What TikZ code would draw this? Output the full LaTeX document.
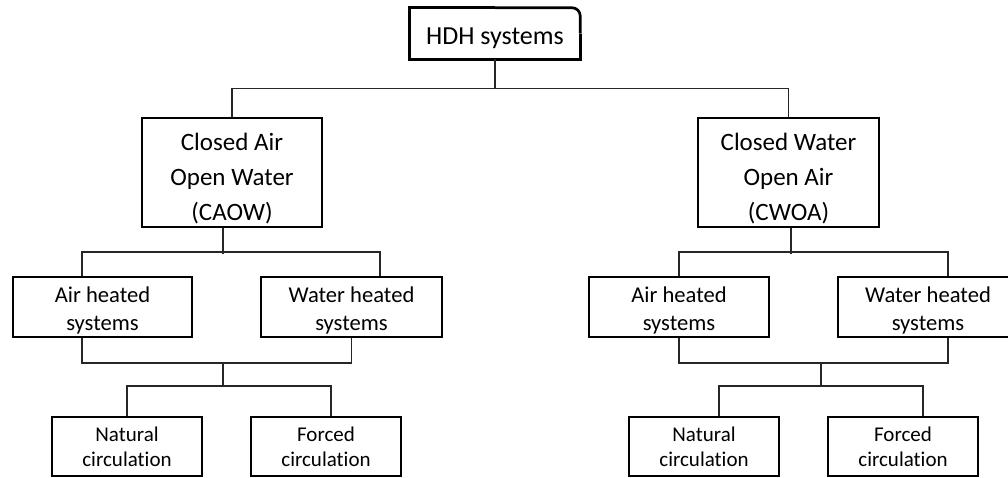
\documentclass[tikz,border=0pt]{standalone}
\usepackage{fontspec}
\setmainfont{Carlito}[Ligatures=NoCommon]
\newcommand\lowr[1]{\rule{0pt}{#1}}
\begin{document}
\begin{tikzpicture}[x=1pt,y=-1pt,
  box/.style={draw, line width=2pt, inner sep=0pt, align=center},
  conn/.style={line width=1.3pt, draw=black!85},
  ftop/.style={font=\fontsize{26}{31}\selectfont},
  fmid/.style={font=\fontsize{25}{35}\selectfont},
  fsys/.style={font=\fontsize{22.6}{28}\selectfont},
  fcir/.style={font=\fontsize{21}{25}\selectfont}]
\useasboundingbox (0,0) rectangle (1008,477);
\clip (0,0) rectangle (1008,477);

% top box
\node[ftop, minimum width=170pt, minimum height=51pt, inner sep=0pt] (hdh) at (495,33.5) {\lowr{27pt}HDH systems};
\draw[line width=2.7pt, rounded corners=8pt] (hdh.north) -- (hdh.north east) -- (hdh.east);
\draw[line width=2.7pt] (hdh.east) -- (hdh.south east) -- (hdh.south west) -- (hdh.north west) -- (hdh.north);

% second level
\node[box, fmid, minimum width=180pt, minimum height=109pt] (caow) at (232,172.5) {\lowr{30pt}Closed Air\\Open Water\\(CAOW)};
\node[box, fmid, minimum width=181pt, minimum height=109pt] (cwoa) at (788.5,172.5) {\lowr{30pt}Closed Water\\Open Air\\(CWOA)};

% third level
\node[box, fsys, minimum width=179pt, minimum height=60pt] (lah) at (102.5,307) {\lowr{22pt}Air heated\\systems};
\node[box, fsys, minimum width=181pt, minimum height=60pt] (lwh) at (351.5,307) {\lowr{22pt}Water heated\\systems};
\node[box, fsys, minimum width=180pt, minimum height=60pt] (rah) at (679,307) {\lowr{22pt}Air heated\\systems};
\node[box, fsys, minimum width=180pt, minimum height=60pt] (rwh) at (928,307) {\lowr{22pt}Water heated\\systems};

% fourth level
\node[box, fcir, minimum width=150pt, minimum height=59pt] (lnat) at (127,446.5) {Natural\\circulation};
\node[box, fcir, minimum width=150pt, minimum height=59pt] (lfor) at (326,446.5) {Forced\\circulation};
\node[box, fcir, minimum width=150pt, minimum height=59pt] (rnat) at (704,446.5) {Natural\\circulation};
\node[box, fcir, minimum width=150pt, minimum height=59pt] (rfor) at (903,446.5) {Forced\\circulation};

% connectors top
\draw[conn] (hdh.south) -- ++(0,29) -| (caow.north);
\draw[conn] (hdh.south) ++(0,29) -| (cwoa.north);

% left branch
\draw[conn] ([xshift=-9pt]caow.south) -- ++(0,26);
\draw[conn] ([xshift=-20.5pt]lah.north) -- ++(0,-24) -| ([xshift=28.5pt]lwh.north);
\draw[conn] ([xshift=-20.5pt]lah.south) -- ++(0,25) -| (lwh.south);
\coordinate (lj) at (223,362);
\draw[conn] (lj) -- ++(0,25);
\draw[conn] (lnat.north) -- ++(0,-30) -| ([xshift=5pt]lfor.north);

% right branch
\draw[conn] ([xshift=2.5pt]cwoa.south) -- ++(0,26);
\draw[conn] (rah.north) -- ++(0,-24) -| ([xshift=20pt]rwh.north);
\draw[conn] (rah.south) -- ++(0,25) -| ([xshift=20pt]rwh.south);
\coordinate (rj) at (821,362);
\draw[conn, line width=2pt] (rj) -- ++(0,25);
\draw[conn] ([xshift=15pt]rnat.north) -- ++(0,-30) -| ([xshift=20pt]rfor.north);
\end{tikzpicture}
\end{document}
